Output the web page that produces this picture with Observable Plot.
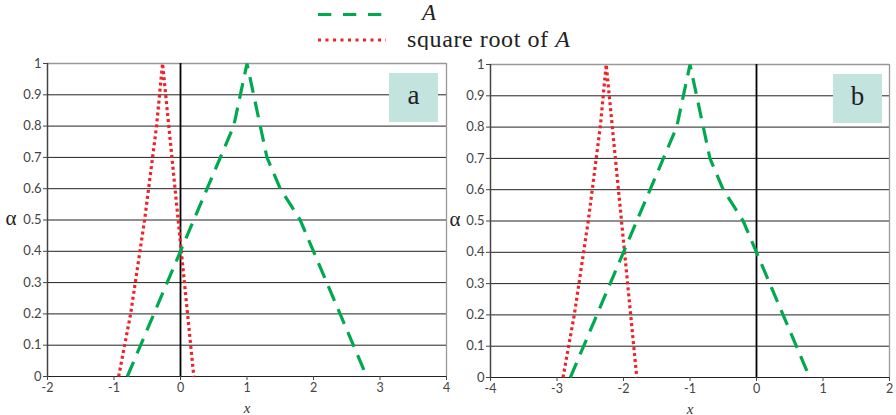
<!DOCTYPE html>
<html>
<head>
<meta charset="utf-8">
<script src="https://cdn.jsdelivr.net/npm/d3@7"></script>
<script src="https://cdn.jsdelivr.net/npm/@observablehq/plot@0.6"></script>
<style>
  html, body { margin: 0; padding: 0; background: #fff; }
  #root { position: relative; width: 896px; height: 415px; overflow: hidden; }
  .abs { position: absolute; }
  .tag { position: absolute; width: 49px; height: 49px; background: #c3e3df;
         font-family: "Liberation Serif", serif; font-size: 27px; color: #222;
         display: flex; align-items: center; justify-content: center; line-height: 1; }
  .tag span { position: relative; top: -2px; }
  .leg { font-family: "Liberation Serif", serif; fill: #222; }
</style>
</head>
<body>
<div id="root"></div>
<script>
// ---- data ----
const alphaTicks = [0, 0.1, 0.2, 0.3, 0.4, 0.5, 0.6, 0.7, 0.8, 0.9, 1];
const xTicksA = [-2, -1, 0, 1, 2, 3, 4];
const xTicksB = [-4, -3, -2, -1, 0, 1, 2];

// fuzzy number A (alpha-cut vertices)
const alphaA = [0, 0.8, 1, 0.7, 0.6, 0.5, 0];
const xA_a = [-0.8, 0.8, 1, 1.3, 1.5, 1.8, 2.8];
const xA_b = [-2.8, -1.2, -1, -0.7, -0.5, -0.2, 0.8];

// square root of A
const alphaS = [0, 0.2, 0.5, 0.8, 1, 0];
const xS_a = [-0.93, -0.75, -0.54, -0.36, -0.27, 0.2];
const xS_b = [-2.91, -2.74, -2.53, -2.35, -2.26, -1.8];

const panelLabels = ["a", "b"];
const legendLabels = ["A", "square root of A"];

const GREEN = "#00a94f";
const RED = "#ee2229";

function rows(xs, as) { return xs.map((x, i) => ({x, a: as[i]})); }

function panel(xTicks, xsA, xsS, m) {
  const dom = [xTicks[0], xTicks[xTicks.length - 1]];
  return Plot.plot({
    width: 448, height: 365,
    marginLeft: m.l, marginRight: m.r, marginTop: m.t, marginBottom: m.b,
    style: {fontFamily: "Lato, 'DejaVu Sans', sans-serif", fontSize: "13px", color: "#444", background: "transparent", overflow: "visible"},
    x: {domain: dom, ticks: xTicks},
    y: {domain: [0, 1], ticks: alphaTicks},
    marks: [
      Plot.ruleY(alphaTicks.filter(d => d < 1), {stroke: "#222", strokeWidth: 1}),
      Plot.ruleY([1], {stroke: "#999", strokeWidth: 1.3}),
      Plot.ruleX([dom[1]], {stroke: "#999", strokeWidth: 1.3}),
      Plot.ruleX([dom[0]], {stroke: "#444", strokeWidth: 1.5}),
      Plot.ruleX([0], {stroke: "#000", strokeWidth: 1.8}),
      Plot.axisY({ticks: alphaTicks, tickSize: 4, tickPadding: 2, tickFormat: d => String(d), label: null, fontSize: 13, stroke: "#444"}),
      Plot.axisX({ticks: xTicks, tickSize: 4, tickPadding: 3, tickFormat: d => String(d), label: null, fontSize: 12.5, stroke: "#444"}),
      Plot.line(rows(xsS, alphaS), {x: "x", y: "a", stroke: RED, strokeWidth: 3.2, strokeDasharray: "3,3", strokeLinecap: "butt", strokeLinejoin: "miter"}),
      Plot.line(rows(xsA, alphaA), {x: "x", y: "a", stroke: GREEN, strokeWidth: 3.2, strokeDasharray: "16,9", strokeLinecap: "butt", strokeLinejoin: "miter"}),
      Plot.text(["α"], {frameAnchor: "left", textAnchor: "start", dx: m.ax, dy: -2, fontFamily: "Liberation Serif, serif", fontSize: 21, fill: "#222"}),
      Plot.text(["x"], {frameAnchor: "bottom", lineAnchor: "bottom", dy: 36, fontFamily: "Liberation Serif, serif", fontStyle: "italic", fontSize: 15, fill: "#333"})
    ]
  });
}

const root = document.getElementById("root");

// legend
const leg = document.createElementNS("http://www.w3.org/2000/svg", "svg");
leg.setAttribute("width", 896); leg.setAttribute("height", 50);
leg.setAttribute("class", "abs"); leg.style.left = "0px"; leg.style.top = "0px";
leg.innerHTML = `
  <line x1="318" x2="383" y1="14.5" y2="14.5" stroke="${GREEN}" stroke-width="3.2" stroke-dasharray="13.3,11.7"/>
  <line x1="318" x2="386" y1="40" y2="40" stroke="${RED}" stroke-width="3.2" stroke-dasharray="3,4.5"/>
  <text class="leg" x="422" y="19.5" font-size="23" font-style="italic">${legendLabels[0]}</text>
  <text class="leg" x="407" y="46.5" font-size="24" letter-spacing="0.6">${legendLabels[1].replace(/A$/, "")}<tspan font-style="italic">A</tspan></text>`;
root.appendChild(leg);

const pa = panel(xTicksA, xA_a, xS_a, {l: 47, r: 2, t: 13, b: 39, ax: -42});
pa.classList.add("abs"); pa.style.left = "0px"; pa.style.top = "50px";
root.appendChild(pa);

const pb = panel(xTicksB, xA_b, xS_b, {l: 42, r: 7, t: 14, b: 38, ax: -41});
pb.classList.add("abs"); pb.style.left = "448px"; pb.style.top = "50px";
root.appendChild(pb);

// panel tags
[[389, 73], [833, 74]].forEach((p, i) => {
  const d = document.createElement("div");
  d.className = "tag";
  d.style.left = p[0] + "px"; d.style.top = p[1] + "px";
  d.innerHTML = `<span>${panelLabels[i]}</span>`;
  root.appendChild(d);
});
</script>
</body>
</html>
